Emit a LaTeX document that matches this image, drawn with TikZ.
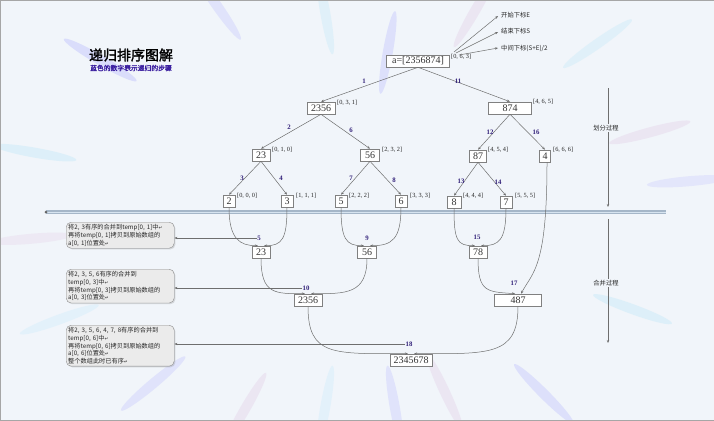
\documentclass[tikz,border=0pt]{standalone}
\usepackage{fontspec}
\setmainfont{Liberation Serif}
\newfontfamily\cjk[AutoFakeBold=2]{Noto Sans CJK SC}
\newfontfamily\symf{DejaVu Sans}
\usetikzlibrary{arrows.meta,shadows}
\definecolor{bgc}{HTML}{F1F5FA}
\definecolor{stepc}{HTML}{33227A}
\definecolor{linec}{HTML}{6E6E6E}
\definecolor{subc}{HTML}{3B1FA0}
\newcommand\pmk{{\symf\fontsize{4.5}{5}\selectfont ↵}}
\begin{document}
\begin{tikzpicture}[x=1pt,y=-1pt,
  box/.style={draw=black!50, fill=white, line width=0.6pt, inner sep=1pt, minimum height=12pt,
    font=\fontsize{10}{11}\selectfont, text=black!80},
  idx/.style={font=\fontsize{6.3}{7}\selectfont, anchor=west, inner sep=0pt, text=black!85},
  stepnum/.style={font=\bfseries\fontsize{6.8}{7}\selectfont, text=stepc, inner sep=0.5pt},
  edge/.style={draw=linec, line width=0.5pt, -{Stealth[length=3pt,width=2.4pt]}},
  note/.style={draw=black!45, rounded corners=5pt, fill=white!92!black, anchor=north west,
    align=left, text width=104pt, inner sep=2pt, text=black!85,
    font=\cjk\fontsize{6.2}{7.8}\selectfont,
    drop shadow={opacity=0.25, shadow xshift=1.2pt, shadow yshift=-1.2pt}},
  ann/.style={font=\cjk\fontsize{6.3}{7}\selectfont, anchor=west, inner sep=0pt, text=black!85},
  proc/.style={font=\cjk\fontsize{6.3}{7}\selectfont, fill=bgc, inner sep=1pt, text=black!85}]
\useasboundingbox (0,0) rectangle (714,420);
% background
\fill[bgc] (0,0) rectangle (714,420);
\begin{scope}[shift={(360,210)}, y=1pt]
  \foreach \a/\r/\c in {150/300/blue!45, 170/330/cyan!40, 125/250/blue!35, 100/200/cyan!35,
      80/160/blue!40, 60/230/violet!30, 35/290/cyan!35, 15/300/violet!30, 5/330/blue!30,
      -20/290/cyan!40, -45/260/blue!40, -65/200/violet!30, -80/200/blue!35, -100/200/cyan!30,
      -120/230/violet!30, -140/270/blue!35, -160/320/cyan!30, -175/330/violet!25}
    \fill[\c, opacity=0.22, rotate=\a] (\r,0) ellipse (42 and 5);
\end{scope}
\draw[black!35, line width=0.8pt] (0,0) rectangle (714,420);

% title
\node[font=\cjk\bfseries\fontsize{14}{14}\selectfont, inner sep=0pt] (title) at (131,55) {递归排序图解};
\node[font=\cjk\bfseries\fontsize{6.8}{7}\selectfont, text=subc, inner sep=0pt] (subtitle) at (131,68) {蓝色的数字表示递归的步骤};

% divider bar
\coordinate (barL) at (46,212);
\coordinate (barR) at (666,212);
\draw[line width=3.6pt, color={rgb,255:red,165;green,182;blue,200}] (barL) -- (barR);
\draw[line width=1pt, color={rgb,255:red,215;green,228;blue,240}] (barL) -- (barR);
\fill[black!60] (barL) circle (1.5);

% process arrows
\coordinate (v1a) at (608,88);
\coordinate (v1b) at (608,207);
\coordinate (v2a) at (608,219);
\coordinate (v2b) at (608,343);
\draw[edge] (v1a) -- (v1b);
\draw[edge] (v2a) -- (v2b);
\node[proc] (p1) at (606,128) {划分过程};
\node[proc] (p2) at (606,283) {合并过程};

% tree nodes
\node[box, minimum width=63pt] (root) at (418,61) {a=[2356874]};
\node[idx] (iroot) at (451,57) {[0, 6, 3]};
\node[box, minimum width=28pt] (n2356) at (321,108) {2356};
\node[idx] at (337,103) {[0, 3, 1]};
\node[box, minimum width=43pt] (n874) at (510,108) {874};
\node[idx] at (533,102) {[4, 6, 5]};
\node[box, minimum width=18pt] (n23) at (261,155) {23};
\node[idx] at (272,150) {[0, 1, 0]};
\node[box, minimum width=19pt] (n56) at (370,155) {56};
\node[idx] at (382,150) {[2, 3, 2]};
\node[box, minimum width=17pt] (n87) at (478,156) {87};
\node[idx] at (488,150) {[4, 5, 4]};
\node[box, minimum width=11pt] (n4) at (545,156) {4};
\node[idx] at (553,150) {[6, 6, 6]};
\node[box, minimum width=12pt] (l2) at (229,201) {2};
\node[idx] at (237,196) {[0, 0, 0]};
\node[box, minimum width=12pt] (l3) at (287,201) {3};
\node[idx] at (296,196) {[1, 1, 1]};
\node[box, minimum width=12pt] (l5) at (341,201) {5};
\node[idx] at (349,196) {[2, 2, 2]};
\node[box, minimum width=12pt] (l6) at (401,201) {6};
\node[idx] at (410,196) {[3, 3, 3]};
\node[box, minimum width=14pt] (l8) at (454,202) {8};
\node[idx] at (463,196) {[4, 4, 4]};
\node[box, minimum width=12pt] (l7) at (506,202) {7};
\node[idx] at (515,196) {[5, 5, 5]};

% merge nodes
\node[box, minimum width=18pt] (m23) at (261,252) {23};
\node[box, minimum width=19pt] (m56) at (367,252) {56};
\node[box, minimum width=18pt] (m78) at (478,252) {78};
\node[box, minimum width=28pt] (m2356) at (308,300) {2356};
\node[box, minimum width=47pt] (m487) at (518,300) {487};
\node[box, minimum width=42pt] (final) at (411,360) {2345678};

% annotations of the index triple
\coordinate (o1) at (454,52);
\coordinate (o2) at (456,53);
\coordinate (o3) at (459,55);
\coordinate (e1) at (498,16);
\coordinate (e2) at (498,32);
\coordinate (e3) at (498,48);
\draw[edge] (o1) -- (e1);
\draw[edge] (o2) -- (e2);
\draw[edge] (o3) -- (e3);
\node[ann] (t1) at (501,15) {开始下标E};
\node[ann] (t2) at (501,31) {结束下标S};
\node[ann] (t3) at (501,48) {中间下标(S+E)/2};

% split edges
\draw[edge] (root.south) -- (n2356.north);
\draw[edge] (root.south) -- (n874.north);
\draw[edge] (n2356.south) -- (n23.north);
\draw[edge] (n2356.south) -- (n56.north);
\draw[edge] (n874.south) -- (n87.north);
\draw[edge] (n874.south) -- (n4.north);
\draw[edge] (n23.south) -- (l2.north);
\draw[edge] (n23.south) -- (l3.north);
\draw[edge] (n56.south) -- (l5.north);
\draw[edge] (n56.south) -- (l6.north);
\draw[edge] (n87.south) -- (l8.north);
\draw[edge] (n87.south) -- (l7.north);

% merge curves
\draw[edge] (l2.south) .. controls +(0,32) and +(-18,0) .. ([xshift=-3pt]m23.north);
\draw[edge] (l3.south) .. controls +(0,32) and +(18,0) .. ([xshift=3pt]m23.north);
\draw[edge] (l5.south) .. controls +(0,32) and +(-18,0) .. ([xshift=-3pt]m56.north);
\draw[edge] (l6.south) .. controls +(0,32) and +(22,0) .. ([xshift=3pt]m56.north);
\draw[edge] (l8.south) .. controls +(0,32) and +(-18,0) .. ([xshift=-3pt]m78.north);
\draw[edge] (l7.south) .. controls +(0,32) and +(18,0) .. ([xshift=3pt]m78.north);
\draw[edge] (m23.south) .. controls +(0,36) and +(-30,0) .. ([xshift=-3pt]m2356.north);
\draw[edge] (m56.south) .. controls +(0,36) and +(35,0) .. ([xshift=3pt]m2356.north);
\draw[edge] (m78.south) .. controls +(0,34) and +(-28,-2) .. ([xshift=-3pt]m487.north);
\draw[edge] ([xshift=2pt]n4.south) .. controls +(0,105) and +(12,-22) .. ([xshift=3pt]m487.north);
\draw[edge] (m2356.south) .. controls +(0,50) and +(-75,0) .. ([xshift=-3pt]final.north);
\draw[edge] (m487.south) .. controls +(0,50) and +(75,0) .. ([xshift=3pt]final.north);

% step numbers
\node[stepnum] (s1) at (364,81) {1};
\node[stepnum] (s11) at (458,81) {11};
\node[stepnum] (s2) at (289,127) {2};
\node[stepnum] (s6) at (351,130) {6};
\node[stepnum] (s12) at (490,132) {12};
\node[stepnum] (s16) at (536,132) {16};
\node[stepnum] (s3) at (242,178) {3};
\node[stepnum] (s4) at (281,178) {4};
\node[stepnum] (s7) at (351,178) {7};
\node[stepnum] (s8) at (394,180) {8};
\node[stepnum] (s13) at (461,181) {13};
\node[stepnum] (s14) at (498,182) {14};
\node[stepnum] (s5) at (259,238) {5};
\node[stepnum] (s9) at (367,238) {9};
\node[stepnum] (s15) at (477,237) {15};
\node[stepnum] (s10) at (306,288) {10};
\node[stepnum] (s17) at (514,283) {17};
\node[stepnum] (s18) at (409,344) {18};

% callouts
\node[note] (c1) at (66,222) {将2, 3有序的合并到temp[0, 1]中\pmk\\再将temp[0, 1]拷贝到原始数组的\\a[0, 1]位置处\pmk};
\node[note] (c2) at (66,269) {将2, 3, 5, 6有序的合并到\\temp[0, 3]中\pmk\\再将temp[0, 3]拷贝到原始数组的\\a[0, 3]位置处\pmk};
\node[note] (c3) at (66,325) {将2, 3, 5, 6, 4, 7, 8有序的合并到\\temp[0, 6]中\pmk\\再将temp[0, 6]拷贝到原始数组的\\a[0, 6]位置处\pmk\\整个数组此时已有序\pmk};
\draw[edge] (s5.west) -- (s5.west -| c1.east);
\draw[edge] (s10.west) -- (s10.west -| c2.east);
\draw[edge] (s18.west) -- (s18.west -| c3.east);
\end{tikzpicture}
\end{document}
